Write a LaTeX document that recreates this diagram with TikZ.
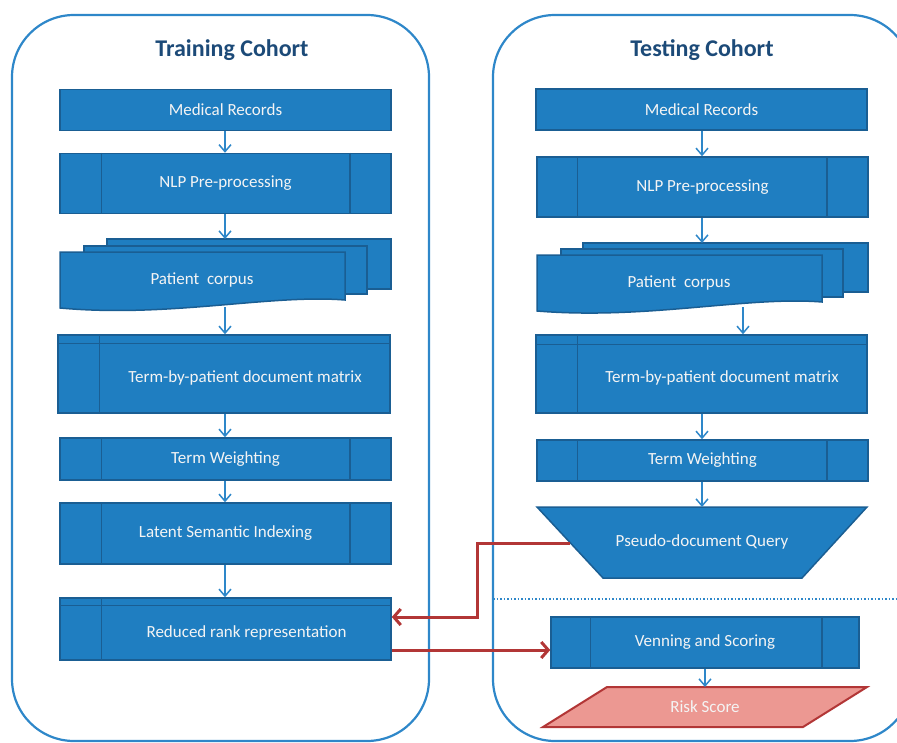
\documentclass[tikz,border=0pt]{standalone}
\usepackage{fontspec}
\setmainfont{Carlito}
\usetikzlibrary{arrows.meta}
\definecolor{boxblue}{HTML}{1F7EC1}
\definecolor{edgeblue}{HTML}{1A5E93}
\definecolor{frameblue}{HTML}{2E87C9}
\definecolor{titleblue}{HTML}{1C4A78}
\definecolor{redline}{HTML}{B23636}
\definecolor{riskfill}{HTML}{EC9892}
\definecolor{txtc}{HTML}{F4F4F4}
\begin{document}
\begin{tikzpicture}[x=1pt,y=-1pt,
  frame/.style={draw=frameblue,line width=2.2pt,rounded corners=62pt},
  box/.style={draw=edgeblue,fill=boxblue,line width=1.5pt,inner sep=0pt,text=txtc,
     font=\fontsize{17}{20}\selectfont},
  shp/.style={draw=edgeblue,fill=boxblue,line width=1.5pt},
  inl/.style={draw=edgeblue,line width=1.5pt},
  lbl/.style={text=txtc,font=\fontsize{17}{20}\selectfont,inner sep=0pt},
  title/.style={text=titleblue,font=\fontsize{24}{28}\selectfont\bfseries},
  flow/.style={draw=frameblue,line width=1.5pt,-{Straight Barb[length=7pt,width=12pt,line width=1.5pt]}},
  redflow/.style={draw=redline,line width=3pt,-{Straight Barb[length=7pt,width=16pt,line width=3pt]}}]
\useasboundingbox (0,0) rectangle (897,742);
\clip (0,0) rectangle (897,742);

% containers
\draw[frame] (12,15) rectangle (429,741);
\draw[frame] (493,15) rectangle (912,741);
\node[title] (tL) at (232,50) {Training Cohort};
\node[title] (tR) at (702,50) {Testing Cohort};

% ---------------- left column
\node[box,minimum width=331pt,minimum height=41pt] (mrL) at (225.5,110) {Medical Records};
\node[box,minimum width=331pt,minimum height=60pt] (nlpL) at (225.5,183.5) {NLP Pre-processing};
\draw[inl] ([xshift=42pt]nlpL.north west) -- ([xshift=42pt]nlpL.south west);
\draw[inl] ([xshift=-42pt]nlpL.north east) -- ([xshift=-42pt]nlpL.south east);

% patient corpus (multi-document)
\draw[shp] (107,239) rectangle (391,289);
\draw[shp] (84,246) rectangle (367,294);
\draw[shp] (60,252) -- (345,252) -- (345,300) .. controls (270,294) and (170,318) .. (60,308) -- cycle;
\node[lbl] (pcL) at (202,280) {Patient\ \ corpus};
\coordinate (pcLtop) at (225,239);
\coordinate (pcLbot) at (225,307);

\node[box,minimum width=332pt,minimum height=78pt] (tdmL) at (224,374) {};
\draw[inl] ([yshift=-9pt]tdmL.north west) -- ([yshift=-9pt]tdmL.north east);
\draw[inl] ([xshift=42pt]tdmL.north west) -- ([xshift=42pt]tdmL.south west);
\node[lbl] (tdmLt) at (245,378) {Term-by-patient document matrix};

\node[box,minimum width=331pt,minimum height=42pt] (twL) at (225.5,459) {Term Weighting};
\draw[inl] ([xshift=42pt]twL.north west) -- ([xshift=42pt]twL.south west);
\draw[inl] ([xshift=-42pt]twL.north east) -- ([xshift=-42pt]twL.south east);

\node[box,minimum width=331pt,minimum height=61pt] (lsiL) at (225.5,533.5) {Latent Semantic Indexing};
\draw[inl] ([xshift=42pt]lsiL.north west) -- ([xshift=42pt]lsiL.south west);
\draw[inl] ([xshift=-42pt]lsiL.north east) -- ([xshift=-42pt]lsiL.south east);

\node[box,minimum width=331pt,minimum height=62pt] (rrL) at (225.5,629) {};
\draw[inl] ([yshift=-8pt]rrL.north west) -- ([yshift=-8pt]rrL.north east);
\draw[inl] ([xshift=42pt]rrL.north west) -- ([xshift=42pt]rrL.south west);
\node[lbl] (rrLt) at (246.5,633) {Reduced rank representation};

\draw[flow] (mrL.south -| 225,0) -- (nlpL.north -| 225,0);
\draw[flow] (nlpL.south -| 225,0) -- (pcLtop);
\draw[flow] (pcLbot) -- (tdmL.north -| 225,0);
\draw[flow] (tdmL.south -| 225,0) -- (twL.north -| 225,0);
\draw[flow] (twL.south -| 225,0) -- (lsiL.north -| 225,0);
\draw[flow] (lsiL.south -| 225,0) -- (rrL.north -| 225,0);

% ---------------- right column
\node[box,minimum width=331pt,minimum height=41pt] (mrR) at (701.5,109.5) {Medical Records};
\node[box,minimum width=331pt,minimum height=60pt] (nlpR) at (702.5,187) {NLP Pre-processing};
\draw[inl] ([xshift=41pt]nlpR.north west) -- ([xshift=41pt]nlpR.south west);
\draw[inl] ([xshift=-42pt]nlpR.north east) -- ([xshift=-42pt]nlpR.south east);

\draw[shp] (583,243) rectangle (868,292);
\draw[shp] (561,249) rectangle (843,297);
\draw[shp] (537,255) -- (822,255) -- (822,302) .. controls (747,296) and (647,320) .. (537,311) -- cycle;
\node[lbl] (pcR) at (679,283) {Patient\ \ corpus};
\coordinate (pcRtop) at (702,243);
\coordinate (pcRbot) at (743,307);

\node[box,minimum width=331pt,minimum height=78pt] (tdmR) at (701.5,374) {};
\draw[inl] ([yshift=-10pt]tdmR.north west) -- ([yshift=-10pt]tdmR.north east);
\draw[inl] ([xshift=42pt]tdmR.north west) -- ([xshift=42pt]tdmR.south west);
\node[lbl] (tdmRt) at (722,378) {Term-by-patient document matrix};

\node[box,minimum width=331pt,minimum height=41pt] (twR) at (702.5,460.5) {Term Weighting};
\draw[inl] ([xshift=41pt]twR.north west) -- ([xshift=41pt]twR.south west);
\draw[inl] ([xshift=-42pt]twR.north east) -- ([xshift=-42pt]twR.south east);

% pseudo-document query (trapezoid)
\draw[shp] (537,507) -- (867,507) -- (802,578) -- (603,578) -- cycle;
\node[lbl] (pdq) at (702,542) {Pseudo-document Query};
\coordinate (pdqTop) at (702,507);
\coordinate (pdqW) at (570,543);

% dotted separator
\draw[draw=frameblue,line width=1.5pt,dotted] (493,599) -- (897,599);

\node[box,minimum width=308pt,minimum height=51pt] (vsR) at (705,642.5) {Venning and Scoring};
\draw[inl] ([xshift=40pt]vsR.north west) -- ([xshift=40pt]vsR.south west);
\draw[inl] ([xshift=-38pt]vsR.north east) -- ([xshift=-38pt]vsR.south east);

% risk score (parallelogram)
\draw[draw=redline,fill=riskfill,line width=2pt] (607,687) -- (867,687) -- (803,727) -- (543,727) -- cycle;
\node[lbl] (risk) at (705,707) {Risk Score};
\coordinate (riskTop) at (705,687);

\draw[flow] (mrR.south -| 702,0) -- (nlpR.north -| 702,0);
\draw[flow] (nlpR.south -| 702,0) -- (pcRtop);
\draw[flow] (pcRbot) -- (tdmR.north -| 743,0);
\draw[flow] (tdmR.south -| 702,0) -- (twR.north -| 702,0);
\draw[flow] (twR.south -| 702,0) -- (pdqTop);
\draw[flow] (vsR.south -| 705,0) -- (riskTop);

% red connectors
\draw[redflow] (pdqW) -- (477,543) -- (477,617) -- (rrL.east |- 0,617);
\draw[redflow] (rrL.east |- 0,650) -- (vsR.west |- 0,650);
\end{tikzpicture}
\end{document}
